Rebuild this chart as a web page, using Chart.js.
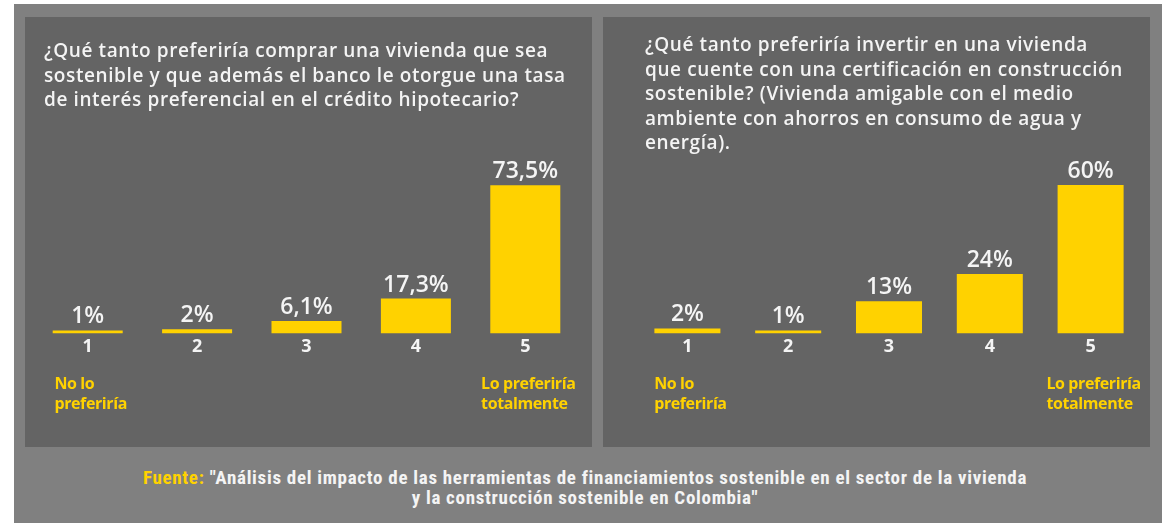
<!DOCTYPE html>
<html lang="es">
<head>
<meta charset="utf-8">
<title>Preferencia por vivienda sostenible</title>
<script src="https://cdn.jsdelivr.net/npm/chart.js@4.4.1/dist/chart.umd.min.js"></script>
<style>
    html, body { margin: 0; padding: 0; background: #ffffff; }
    body { width: 1162px; height: 523px; position: relative; overflow: hidden; font-family: "Open Sans", sans-serif; }
    .frame { position: absolute; left: 14px; top: 4px; width: 1148px; height: 519px; background: #808080; }
    .panel { position: absolute; top: 17px; height: 430px; background: #646464; }
    .panel canvas { position: absolute; left: 0; top: 0; }
    .question { position: absolute; color: #f4f4f4; font-size: 19px; font-weight: 600; line-height: 24.5px; letter-spacing: 0.6px; z-index: 2; }
    .source { position: absolute; left: 14px; width: 1142px; top: 468px; text-align: center; color: #f4f4f4;
              font-family: "Liberation Sans Narrow", "Roboto Condensed", "Liberation Sans", sans-serif; font-weight: 700; font-size: 19px; line-height: 19.5px; letter-spacing: 0.7px; }
    .source .tag { color: #ffd200; }
</style>
</head>
<body>
<div class="frame"></div>

<div class="panel" id="panelCompra" style="left:25px; width:567px;">
    <div class="question" style="left:19px; top:21px;">¿Qué tanto preferiría comprar una vivienda que sea<br>sostenible y que además el banco le otorgue una tasa<br>de interés preferencial en el crédito hipotecario?</div>
    <canvas id="chartCompra" width="567" height="430"></canvas>
</div>

<div class="panel" id="panelInversion" style="left:603px; width:547px;">
    <div class="question" style="left:42px; top:15px;">¿Qué tanto preferiría invertir en una vivienda<br>que cuente con una certificación en construcción<br>sostenible? (Vivienda amigable con el medio<br>ambiente con ahorros en consumo de agua y<br>energía).</div>
    <canvas id="chartInversion" width="547" height="430"></canvas>
</div>

<div class="source"><span class="tag">Fuente:</span> "Análisis del impacto de las herramientas de financiamientos sostenible en el sector de la vivienda<br>y la construcción sostenible en Colombia"</div>

<script>
    // Escala de respuesta 1..5
    const categories = ['1', '2', '3', '4', '5'];

    const compraValues = [1, 2, 6.1, 17.3, 73.5];
    const inversionValues = [2, 1, 13, 24, 60];

    // Textos de los extremos de la escala
    const lowEndLabel = ['No lo', 'preferiría'];
    const highEndLabel = ['Lo preferiría', 'totalmente'];

    const YELLOW = '#ffd200';
    const WHITE = '#f4f4f4';

    function formatPercent(value) {
        return String(value).replace('.', ',') + '%';
    }

    // Draws the value above each bar and the yellow end-of-scale captions
    const barLabelsPlugin = {
        id: 'barLabels',
        afterDatasetsDraw: function(chart) {
            const ctx = chart.ctx;
            const meta = chart.getDatasetMeta(0);
            const values = chart.data.datasets[0].data;
            const area = chart.chartArea;

            ctx.save();
            ctx.fillStyle = WHITE;
            ctx.font = '600 23px "Open Sans", sans-serif';
            ctx.textAlign = 'center';
            ctx.textBaseline = 'bottom';
            meta.data.forEach(function(bar, i) {
                ctx.fillText(formatPercent(values[i]), bar.x, bar.y - 2);
            });

            ctx.fillStyle = YELLOW;
            ctx.font = '700 16px "Open Sans", sans-serif';
            ctx.textAlign = 'left';
            ctx.textBaseline = 'middle';
            if ('letterSpacing' in ctx) ctx.letterSpacing = '-0.4px';
            [[0, lowEndLabel], [categories.length - 1, highEndLabel]].forEach(function(entry) {
                const lines = entry[1];
                const cx = chart.scales.x.getPixelForValue(entry[0]);
                const blockWidth = Math.max.apply(null, lines.map(function(l) { return ctx.measureText(l).width; }));
                const left = cx - blockWidth / 2 + 3;
                lines.forEach(function(line, j) {
                    ctx.fillText(line, left, area.bottom + 51 + j * 20);
                });
            });
            ctx.restore();
        }
    };

    function buildChart(canvasId, values, barFraction, padding) {
        const ctx = document.getElementById(canvasId);
        return new Chart(ctx, {
            type: 'bar',
            data: {
                labels: categories,
                datasets: [{
                    data: values,
                    backgroundColor: YELLOW,
                    borderWidth: 0,
                    categoryPercentage: 1,
                    barPercentage: barFraction,
                    minBarLength: 3
                }]
            },
            options: {
                responsive: false,
                animation: false,
                devicePixelRatio: 1,
                layout: { padding: padding },
                plugins: {
                    legend: { display: false },
                    tooltip: { enabled: false }
                },
                scales: {
                    x: {
                        grid: { display: false, drawTicks: false },
                        border: { display: false },
                        ticks: {
                            color: WHITE,
                            padding: 3,
                            font: { family: '"Open Sans", sans-serif', size: 18, weight: '700' }
                        }
                    },
                    y: {
                        display: false,
                        min: 0,
                        max: 100
                    }
                }
            },
            plugins: [barLabelsPlugin]
        });
    }

    buildChart('chartCompra', compraValues, 0.64, { left: 8, right: 12, top: 115, bottom: 86 });
    buildChart('chartInversion', inversionValues, 0.655, { left: 34, right: 9, top: 69, bottom: 86 });
</script>
</body>
</html>
